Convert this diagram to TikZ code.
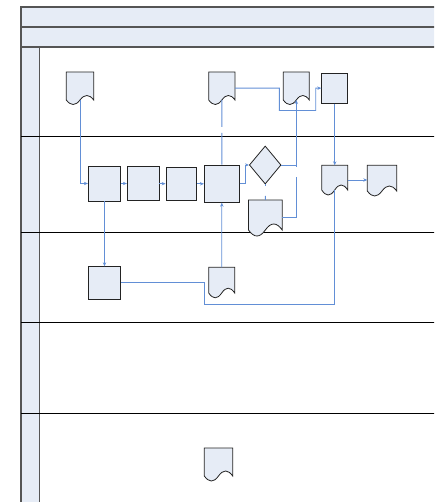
\documentclass[tikz,border=0pt]{standalone}
\usetikzlibrary{shapes.geometric,fit,arrows.meta,calc}
\definecolor{shapefill}{RGB}{230,236,246}
\definecolor{connblue}{RGB}{98,143,214}
\definecolor{framegray}{RGB}{85,85,85}
\definecolor{shapeline}{RGB}{35,35,35}
\tikzset{
  shp/.style={draw=shapeline, fill=shapefill, line width=0.8pt},
  boxshape/.style={shp, inner sep=0pt},
  conn/.style={draw=connblue, line width=0.9pt},
  arr/.style={-{Stealth[length=4pt,width=3.4pt]}},
  frameline/.style={draw=framegray, line width=1.1pt},
  laneline/.style={draw=black, line width=1pt},
}
\newcommand{\docnode}[6]{%
  \path[shp] (#2,#3) -- (#4,#3) -- (#4,#5)
    .. controls ({#4-(#4-#2)/6},{#5-4*#6/3}) and ({(#2+#4)/2+(#4-#2)/6},{#5-4*#6/3}) .. ({(#2+#4)/2},#5)
    .. controls ({(#2+#4)/2-(#4-#2)/6},{#5+4*#6/3}) and ({#2+(#4-#2)/6},{#5+4*#6/3}) .. (#2,#5) -- cycle;
  \node[fit={(#2,#3) (#4,#5)}, inner sep=0pt, outer sep=0pt] (#1) {};
}
\newcommand{\boxnode}[5]{%
  \node[boxshape, fit={(#2,#3) (#4,#5)}] (#1) {};
}
\begin{document}
\begin{tikzpicture}[x=1pt,y=-1pt]
\useasboundingbox (0,0) rectangle (434,502);
\clip (0,0) rectangle (434,502);
% frame
\fill[shapefill] (21,7) rectangle (440,47);
\fill[shapefill] (21,47) rectangle (40,510);
\draw[frameline] (440,7) -- (21,7) -- (21,510);
\draw[frameline] (21,27) -- (440,27);
\draw[frameline] (21,47) -- (440,47);
\draw[draw=framegray, line width=0.9pt] (39.6,47) -- (39.6,510);
\foreach \yy in {137,232,322,413} { \draw[laneline] (21,\yy) -- (440,\yy); }
% lane 1
\docnode{docA}{66.3}{72}{93.7}{100}{4.5}
\docnode{docB}{208.7}{72}{235}{100}{4.5}
\docnode{docC}{283.3}{72}{309.3}{100}{4.5}
\boxnode{rD}{321.7}{73}{347.7}{103.3}
% lane 2
\boxnode{r1}{88.3}{166}{120.7}{201}
\boxnode{r2}{127.3}{166.7}{159}{200.7}
\boxnode{r3}{166}{167.3}{196.7}{200.3}
\boxnode{r4}{204.3}{165}{239.3}{202.3}
\node[diamond, shp, minimum width=31.7pt, minimum height=38pt, inner sep=0pt] (dia) at (265.2,165) {};
\docnode{docE}{321.7}{165.3}{347.7}{190}{5}
\docnode{docG}{367.3}{165.3}{396.7}{191}{5}
\docnode{docF}{248.5}{200}{282.2}{230}{6}
% lane 3
\boxnode{r5}{88.3}{266.7}{120.7}{299}
\docnode{docH}{208.7}{267.3}{234.7}{293}{4.8}
% lane 5
\docnode{docI}{204.3}{448}{232.7}{476}{5}
% waypoints
\coordinate (bA) at (279.3,110.5);
\coordinate (bB) at (315.7,88.2);
\coordinate (jmp) at (296.3,177.3);
\coordinate (dgap) at (265.3,196);
\coordinate (vgapA) at (221.9,127);
\coordinate (vgapB) at (221.9,133);
\coordinate (lowL) at (204,304.5);
% connectors
\draw[conn,arr] (docA.south) |- (r1.west);
\draw[conn,arr] (r1.east) -- (r1.east -| r2.west);
\draw[conn,arr] (r2.east) -- (r2.east -| r3.west);
\draw[conn,arr] (r3.east) -- (r3.east -| r4.west);
\draw[conn,arr] (r1.south) -- (r5.north);
\draw[conn,arr] (r4.east) -- ++(5.7,0) |- (dia.west);
\draw[conn,arr] (dia.east) -| (docC.south);
\draw[conn] (docC.south |- dia.east) -- ++(0,2.5);
\draw[conn] ([yshift=-2.7pt]docF.east) -| (jmp);
\draw[conn] (dia.south) -- ++(0,2);
\draw[conn] (dgap) -- (docF.north);
\draw[conn] (docB.south) -- (vgapA);
\draw[conn] (vgapB) -- (r4.north);
\draw[conn,arr] (docH.north) -- (r4.south);
\draw[conn,arr] (docB.east |- rD.west) -| (bA) -| (bB) -- (rD.west);
\draw[conn,arr] (rD.south) -- (docE.north);
\draw[conn,arr] (docE.east |- 0,180) -- (docG.west |- 0,180);
\draw[conn] (r5.east) -| (lowL) -| (docE.south);
\end{tikzpicture}
\end{document}
